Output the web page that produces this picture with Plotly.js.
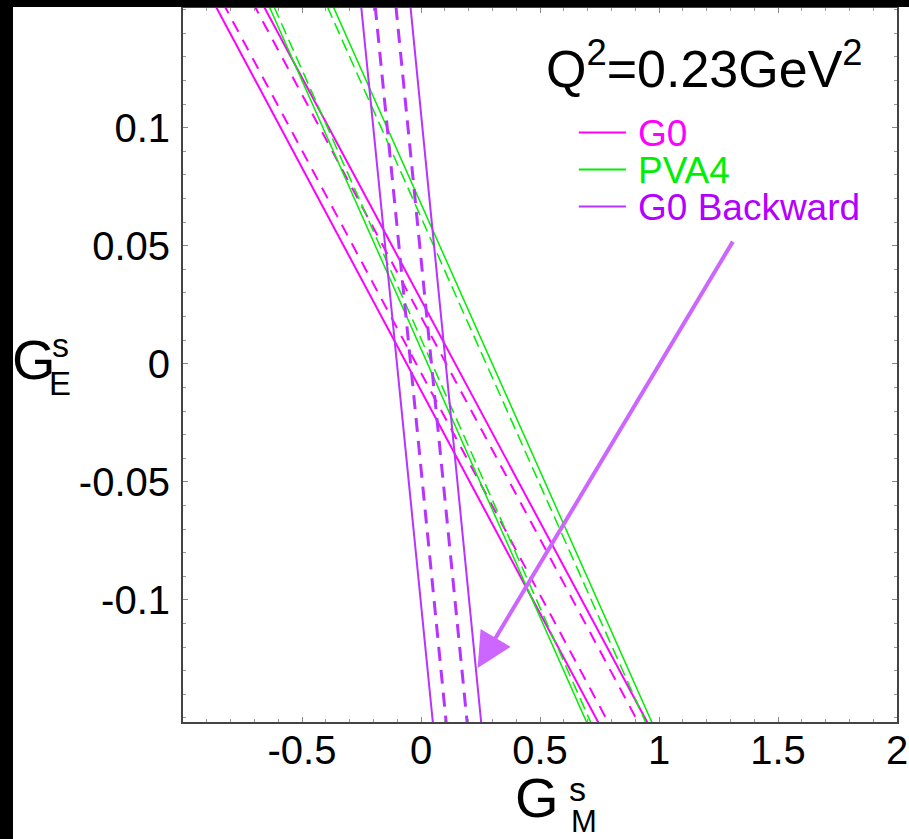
<!DOCTYPE html>
<html>
<head>
<meta charset="utf-8">
<script src="https://cdn.plot.ly/plotly-3.0.1.min.js"></script>
<style>
  html, body { margin: 0; padding: 0; background: #000; width: 909px; height: 839px; overflow: hidden; }
  #chart { position: absolute; left: 13px; top: 7px; width: 896px; height: 832px; background: #fff; }
</style>
</head>
<body>
<div id="chart"></div>
<script>
// ---- data: each band edge is a straight line, given by its G_M^s value at G_E^s = +0.15 and at G_E^s = -0.15
const anchorGE = [0.15, -0.15];

// G0 forward (magenta): outer = total error (solid), inner = statistical (dashed)
const g0Names   = ['G0 solid lo', 'G0 dash lo', 'G0 dash hi', 'G0 solid hi'];
const g0Top     = [-0.855, -0.817, -0.691, -0.653];
const g0Bottom  = [ 0.735,  0.777,  0.903,  0.941];
const g0Dash    = [false, true, true, false];

// PVA4 (green)
const pvaNames  = ['PVA4 solid lo', 'PVA4 dash lo', 'PVA4 dash hi', 'PVA4 solid hi'];
const pvaTop    = [-0.632, -0.612, -0.388, -0.363];
const pvaBottom = [ 0.688,  0.705,  0.936,  0.962];
const pvaDash   = [false, true, true, false];

// G0 backward (purple)
const bkNames   = ['G0B solid lo', 'G0B dash lo', 'G0B dash hi', 'G0B solid hi'];
const bkTop     = [-0.250, -0.191, -0.104, -0.043];
const bkBottom  = [ 0.048,  0.104,  0.192,  0.251];
const bkDash    = [false, true, true, false];

// legend entries
const legendLabels = ['G0', 'PVA4', 'G0 Backward'];

// axis ticks
const xTickVals = [-0.5, 0, 0.5, 1, 1.5, 2];
const xTickText = ['-0.5', '0', '0.5', '1', '1.5', '2'];
const yTickVals = [-0.1, -0.05, 0, 0.05, 0.1];
const yTickText = ['-0.1', '-0.05', '0', '0.05', '0.1'];

// arrow (tail -> head) in data units
const arrowTail = [1.314, 0.0524];
const arrowHead = [0.238, -0.1288];

// ---- styles
const MAG = '#ff00ff', GRN = '#00ee00', PUR = '#b833ff', ARW = '#cc66ff';
const FONT = 'Liberation Sans, Arial, Helvetica, sans-serif';

function lineTrace(name, xt, xb, color, dashed, w, dashPat) {
  const ys = [0.2, -0.2];
  const xs = ys.map(y => xt + (xb - xt) * (anchorGE[0] - y) / (anchorGE[0] - anchorGE[1]));
  return {
    type: 'scatter', mode: 'lines', name: name, x: xs, y: ys, showlegend: false,
    hoverinfo: 'skip',
    line: { color: color, width: w, dash: dashed ? dashPat : 'solid' }
  };
}

const traces = [];
g0Names.forEach((n, i) => traces.push(lineTrace(n, g0Top[i], g0Bottom[i], MAG, g0Dash[i], 2, '12px,9px')));
pvaNames.forEach((n, i) => traces.push(lineTrace(n, pvaTop[i], pvaBottom[i], GRN, pvaDash[i], 1.5, '12px,6px')));
bkNames.forEach((n, i) => traces.push(lineTrace(n, bkTop[i], bkBottom[i], PUR, bkDash[i], bkDash[i] ? 3 : 2, '14px,9px')));

const legendColors = [MAG, GRN, '#b400ff'];
const legendLineColors = [MAG, GRN, PUR];
const legendY = [0.0975, 0.0818, 0.0661];

const annotations = [];
const shapes = [];
legendLabels.forEach((lab, i) => {
  annotations.push({
    xref: 'x', yref: 'y', x: 0.905, y: legendY[i], xanchor: 'left', yanchor: 'middle',
    text: lab, showarrow: false, font: { family: FONT, size: 37, color: legendColors[i] }
  });
  shapes.push({
    type: 'line', xref: 'x', yref: 'y', x0: 0.663, x1: 0.861, y0: legendY[i] + 0.0005, y1: legendY[i] + 0.0005,
    line: { color: legendLineColors[i], width: 2 }
  });
});

// Q^2 label
annotations.push({
  xref: 'x', yref: 'y', x: 0.515, y: 0.1265, xanchor: 'left', yanchor: 'middle',
  text: 'Q<sup>2</sup>=0.23GeV<sup>2</sup>', showarrow: false,
  font: { family: FONT, size: 52, color: '#000' }
});

// arrow
annotations.push({
  xref: 'x', yref: 'y', axref: 'x', ayref: 'y',
  x: arrowHead[0], y: arrowHead[1], ax: arrowTail[0], ay: arrowTail[1],
  text: '', showarrow: true, arrowhead: 2, arrowsize: 1.75, arrowwidth: 4, arrowcolor: ARW, standoff: 0
});

// axis titles (stacked super/subscripts)
annotations.push({ xref: 'paper', yref: 'paper', x: -0.208, y: 0.508, xanchor: 'center', yanchor: 'middle',
  text: 'G', showarrow: false, font: { family: FONT, size: 56, color: '#000' } });
annotations.push({ xref: 'paper', yref: 'paper', x: -0.172, y: 0.528, xanchor: 'center', yanchor: 'middle',
  text: 's', showarrow: false, font: { family: FONT, size: 34, color: '#000' } });
annotations.push({ xref: 'paper', yref: 'paper', x: -0.172, y: 0.474, xanchor: 'center', yanchor: 'middle',
  text: 'E', showarrow: false, font: { family: FONT, size: 33, color: '#000' } });

annotations.push({ xref: 'paper', yref: 'paper', x: 0.496, y: -0.106, xanchor: 'center', yanchor: 'middle',
  text: 'G', showarrow: false, font: { family: FONT, size: 56, color: '#000' } });
annotations.push({ xref: 'paper', yref: 'paper', x: 0.553, y: -0.094, xanchor: 'center', yanchor: 'middle',
  text: 's', showarrow: false, font: { family: FONT, size: 34, color: '#000' } });
annotations.push({ xref: 'paper', yref: 'paper', x: 0.561, y: -0.139, xanchor: 'center', yanchor: 'middle',
  text: 'M', showarrow: false, font: { family: FONT, size: 31, color: '#000' } });

const axisCommon = {
  showgrid: false, zeroline: false, showline: true, linecolor: '#444', linewidth: 2,
  mirror: 'ticks', ticks: 'inside', ticklen: 5, tickwidth: 1, tickcolor: '#888',
  tickfont: { family: FONT, size: 40, color: '#000' }, tickmode: 'array'
};

const layout = {
  width: 896, height: 832,
  margin: { l: 170, r: 12, t: 1, b: 117, pad: 0 },
  paper_bgcolor: '#fff', plot_bgcolor: '#fff',
  showlegend: false,
  xaxis: Object.assign({}, axisCommon, {
    range: [-1, 2], tickvals: xTickVals, ticktext: xTickText, ticklabelstandoff: -8,
    minor: { dtick: 0.1, ticks: 'inside', ticklen: 3, tickcolor: '#999' }
  }),
  yaxis: Object.assign({}, axisCommon, {
    range: [-0.1517, 0.1507], tickvals: yTickVals, ticktext: yTickText, ticklabelstandoff: 3,
    minor: { dtick: 0.01, ticks: 'inside', ticklen: 3, tickcolor: '#999' }
  }),
  annotations: annotations,
  shapes: shapes
};

Plotly.newPlot('chart', traces, layout, { staticPlot: true, displayModeBar: false });
</script>
</body>
</html>
